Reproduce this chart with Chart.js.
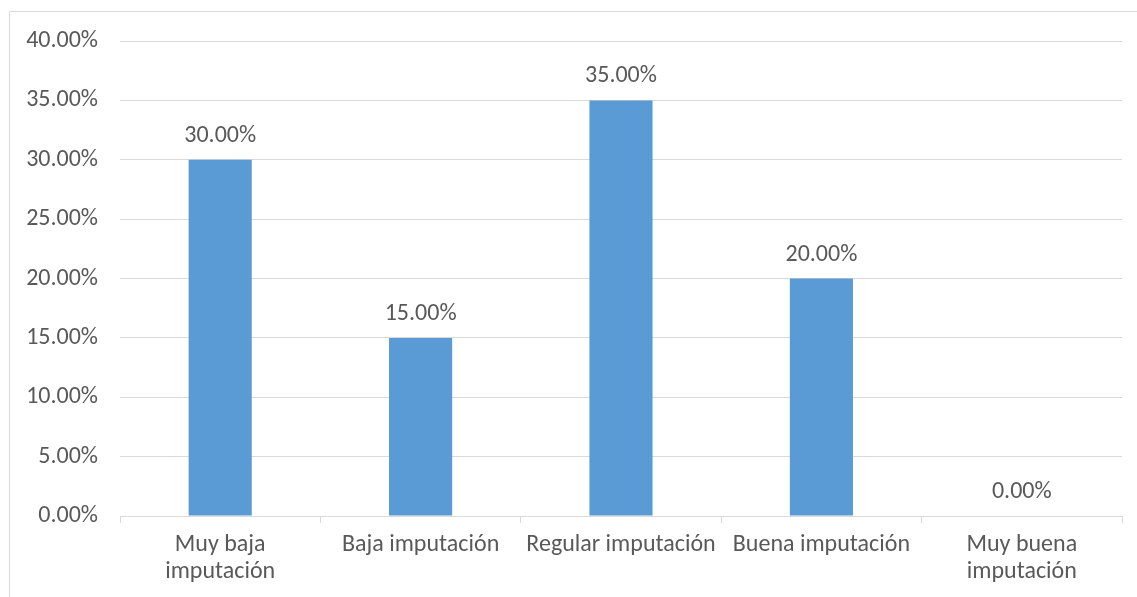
<!DOCTYPE html>
<html>
<head>
<meta charset="utf-8">
<script src="https://cdn.jsdelivr.net/npm/chart.js@4/dist/chart.umd.min.js"></script>
<style>
  html, body { margin: 0; padding: 0; background: #ffffff; overflow: hidden; }
  canvas { display: block; }
</style>
</head>
<body>
<canvas id="chart" width="1137" height="597"></canvas>
<script>
// Categories and percentages for each level of imputación
const categories = [
  ["Muy baja", "imputación"],
  "Baja imputación",
  "Regular imputación",
  "Buena imputación",
  ["Muy buena", "imputación"]
];
const percentages = [30, 15, 35, 20, 0];

// Y axis scale
const yMin = 0;
const yMax = 40;
const yStep = 5;

const textColor = "#595959";
const gridColor = "#d9d9d9";
const barColor = "#5b9bd5";
const fontFamily = "Carlito, 'Open Sans', sans-serif";
const fontSize = 24;

const fmt = v => Number(v).toFixed(2) + "%";

// Light frame around the chart
const framePlugin = {
  id: "frame",
  beforeDraw(chart) {
    const ctx = chart.ctx;
    ctx.save();
    ctx.strokeStyle = gridColor;
    ctx.lineWidth = 1;
    ctx.beginPath();
    ctx.moveTo(9.5, chart.height);
    ctx.lineTo(9.5, 11.5);
    ctx.lineTo(chart.width, 11.5);
    ctx.stroke();
    ctx.restore();
  }
};

// Value labels above each bar
const valueLabels = {
  id: "valueLabels",
  afterDatasetsDraw(chart) {
    const ctx = chart.ctx;
    const meta = chart.getDatasetMeta(0);
    const data = chart.data.datasets[0].data;
    ctx.save();
    ctx.fillStyle = textColor;
    ctx.font = fontSize + "px " + fontFamily;
    ctx.textAlign = "center";
    ctx.textBaseline = "alphabetic";
    meta.data.forEach((bar, i) => {
      ctx.fillText(fmt(data[i]), bar.x, bar.y - 18);
    });
    ctx.restore();
  }
};

new Chart(document.getElementById("chart"), {
  type: "bar",
  data: {
    labels: categories,
    datasets: [{
      data: percentages,
      backgroundColor: barColor,
      borderWidth: 0,
      barPercentage: 0.315,
      categoryPercentage: 1
    }]
  },
  options: {
    responsive: false,
    animation: false,
    devicePixelRatio: 1,
    layout: { padding: { left: 10, right: 15, top: 41, bottom: 0 } },
    plugins: {
      legend: { display: false },
      tooltip: { enabled: false }
    },
    scales: {
      x: {
        grid: {
          display: true,
          drawOnChartArea: false,
          drawTicks: true,
          tickLength: 7,
          color: gridColor,
          offset: true
        },
        border: { display: true, color: gridColor },
        ticks: {
          color: textColor,
          padding: 8,
          maxRotation: 0,
          autoSkip: false,
          font: { family: fontFamily, size: fontSize, lineHeight: 27 / fontSize }
        },
        afterFit(scale) { scale.height = 81; }
      },
      y: {
        min: yMin,
        max: yMax,
        grid: { color: gridColor, drawTicks: false },
        border: { display: false },
        ticks: {
          stepSize: yStep,
          color: textColor,
          padding: 22,
          font: { family: fontFamily, size: fontSize },
          callback: v => fmt(v)
        },
        afterFit(scale) { scale.width = 110; }
      }
    }
  },
  plugins: [framePlugin, valueLabels]
});
</script>
</body>
</html>
